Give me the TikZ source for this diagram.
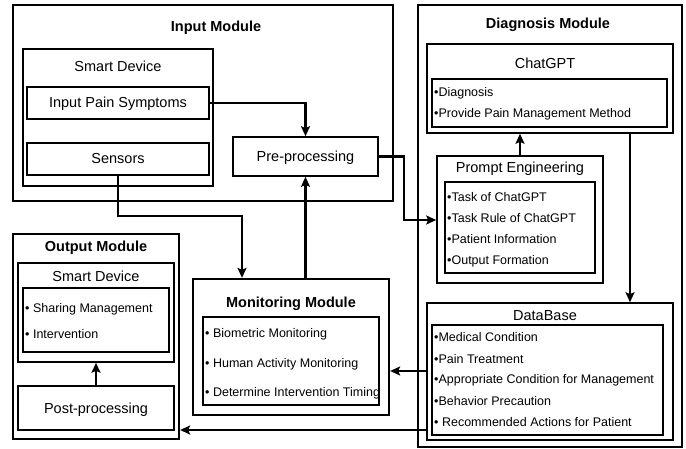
\documentclass[tikz,border=0pt]{standalone}
\usepackage{fontspec}
\setmainfont{Liberation Sans}
\usetikzlibrary{fit,arrows.meta}
\begin{document}
\begin{tikzpicture}[x=1pt,y=-1pt,
  module/.style={draw, line width=2.3pt, inner sep=0pt},
  box/.style={draw, line width=1.6pt, inner sep=0pt},
  title/.style={anchor=base, inner sep=0pt, font=\fontsize{14.5}{17}\selectfont\bfseries},
  label/.style={anchor=base, inner sep=0pt, font=\fontsize{14.5}{17}\selectfont},
  item/.style={anchor=base west, inner sep=0pt, font=\fontsize{12.5}{15}\selectfont},
  arr/.style={line width=2.4pt, -{Stealth[length=10pt,width=9pt,inset=2pt]}}]
\useasboundingbox (0,0) rectangle (686,449);

% ---------- Input Module ----------
\node[module, fit={(13,5) (393,201)}] (inmod) {};
\node[title] (intitle) at (216,32) {Input Module};
\node[box, fit={(23,49) (213,186)}] (sd1) {};
\node[label] (sd1t) at (118,72) {Smart Device};
\node[box, fit={(27,87) (209,119)}] (ips) {};
\node[label] (ipst) at (118,108) {Input Pain Symptoms};
\node[box, fit={(27,143) (209,175)}] (sens) {};
\node[label] (senst) at (118,164) {Sensors};
\node[box, fit={(233,137) (378,176)}] (pre) {};
\node[label] (pret) at (305.5,162) {Pre-processing};

% ---------- Diagnosis Module ----------
\node[module, fit={(418,5) (682,447)}] (dgmod) {};
\node[title] (dgtitle) at (548,29) {Diagnosis Module};
\node[box, fit={(427,44) (673,133)}] (cg) {};
\node[label] (cgt) at (545,69) {ChatGPT};
\node[box, fit={(432,79) (667,127)}] (cgin) {};
\node[item] (cg1) at (434,96.5) {•Diagnosis};
\node[item] (cg2) at (434,117.5) {•Provide Pain Management Method};

\node[box, fit={(437,156) (603,283)}] (pe) {};
\node[label] (pet) at (520,173) {Prompt Engineering};
\node[box, fit={(445,182) (595,273)}] (pein) {};
\node[item] (pe1) at (447,201.5) {•Task of ChatGPT};
\node[item] (pe2) at (447,222.5) {•Task Rule of ChatGPT};
\node[item] (pe3) at (447,243.5) {•Patient Information};
\node[item] (pe4) at (447,264.5) {•Output Formation};

\node[box, fit={(427,303) (673,440)}] (db) {};
\node[label] (dbt) at (545,321) {DataBase};
\node[box, fit={(432,325) (663,435)}] (dbin) {};
\node[item] (db1) at (434,341.5) {•Medical Condition};
\node[item] (db2) at (434,363.5) {•Pain Treatment};
\node[item] (db3) at (434,383.5) {•Appropriate Condition for Management};
\node[item] (db4) at (434,405.5) {•Behavior Precaution};
\node[item] (db5) at (434,426.5) {• Recommended Actions for Patient};

% ---------- Output Module ----------
\node[module, fit={(13,234) (179,439)}] (outmod) {};
\node[title] (outtitle) at (96,252) {Output Module};
\node[box, fit={(18,263) (174,362)}] (sd2) {};
\node[label] (sd2t) at (96,282) {Smart Device};
\node[box, fit={(23,288) (169,352)}] (sd2in) {};
\node[item] (sd21) at (25,312.5) {• Sharing Management};
\node[item] (sd22) at (25,338.5) {• Intervention};
\node[box, fit={(18,386) (174,430)}] (post) {};
\node[label] (postt) at (96,413) {Post-processing};

% ---------- Monitoring Module ----------
\node[module, fit={(193,279) (389,415)}] (mon) {};
\node[title] (montitle) at (291,308) {Monitoring Module};
\node[box, fit={(203,317) (379,405)}] (monin) {};
\node[item] (mon1) at (205,337.5) {• Biometric Monitoring};
\node[item] (mon2) at (205,367.5) {• Human Activity Monitoring};
\node[item] (mon3) at (205,396.5) {• Determine Intervention Timing};

% ---------- Connectors ----------
\coordinate (s1) at (242,216);
\coordinate (p1) at (404,220);
\coordinate (c2) at (630,0);
\coordinate (d1) at (0,371);
\coordinate (d2) at (0,430);

\draw[arr] (ips.east) -| (pre.north);
\draw[arr] (sens.south) |- (s1) -- (s1 |- mon.north);
\draw[arr] (mon.north -| pre.south) -- (pre.south);
\draw[arr] (pre.east) -| (p1) -- (p1 -| pe.west);
\draw[arr] (pe.north) -- (pe.north |- cg.south);
\draw[arr] (c2 |- cg.south) -- (c2 |- db.north);
\draw[arr] (d1 -| db.west) -- (d1 -| mon.east);
\draw[arr] (d2 -| db.west) -- (d2 -| outmod.east);
\draw[arr] (post.north) -- (sd2.south);
\end{tikzpicture}
\end{document}
